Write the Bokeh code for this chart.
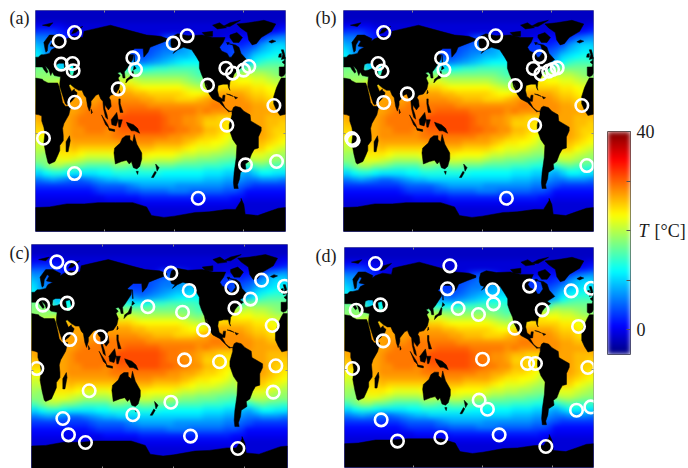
from bokeh.plotting import figure
from bokeh.layouts import row, column, Spacer
from bokeh.models import LinearColorMapper, FixedTicker, LinearAxis, Range1d, CustomJS
from bokeh.document import Document
from bokeh.embed import file_html
from bokeh.resources import INLINE
import numpy as np

# Sea-surface temperature [deg C], rows north to south (5 deg), columns lon 5,15,...,355
SST_N875 = [-2,-2,-2,-2,-2,-2,-2,-2,-2,-2,-2,-2,-2,-2,-2,-2,-2,-2,-2,-2,-2,-2,-2,-2,-2,-2,-2,-2,-2,-2,-2,-2,-2,-2,-2,-2]
SST_N825 = [-2,-2,-2,-2,-2,-2,-2,-2,-2,-2,-2,-2,-2,-2,-2,-2,-2,-2,-2,-2,-2,-2,-2,-2,-2,-2,-2,-2,-2,-2,-2,-2,-2,-2,-2,-2]
SST_N775 = [0,0,0,0,-1,-1,-1,-1,-1,-1,-1,-1,-1,-1,-1,-1,-1,-1,-1,-1,-1,-1,-1,-1,-1,-1,-1,-1,-1,-1,-1,-1,-1,-1,-1,0]
SST_N725 = [3,3,3,2,1,0,-1,-1,-1,-1,-1,-1,-1,-1,-1,-1,-1,-1,-1,-1,-1,-1,-1,-1,-1,-1,-1,-1,-1,-1,-1,-1,-1,0,1,2]
SST_N675 = [6,6,5,3,2,0,-1,-1,-1,-1,-1,-1,-1,-1,-1,-1,-1,0,3,4,4,2,0,-1,-1,-1,-1,0,0,1,1,2,3,5,6,7]
SST_N625 = [8,8,4,3,2,2,2,2,2,2,2,2,2,3,3,3,4,4,5,6,7,8,8,6,4,3,3,3,3,2,3,4,7,9,10,10]
SST_N575 = [10,7,6,4,3,3,3,3,3,3,3,3,3,3,3,3,4,5,6,6,7,8,9,8,5,3,3,3,4,4,5,7,9,10,11,11]
SST_N525 = [11,8,8,8,8,8,6,6,6,5,5,5,5,5,4,4,5,6,7,8,9,9,10,10,8,5,3,3,4,5,7,10,11,12,13,12]
SST_N475 = [14,14,13,9,9,12,10,10,10,9,9,9,9,8,7,6,7,8,9,10,11,12,12,12,12,10,8,7,7,7,9,12,14,15,15,15]
SST_N425 = [17,17,17,10,12,12,13,13,13,13,13,13,13,13,11,12,13,14,14,15,15,15,15,14,14,14,14,14,14,14,17,17,17,17,17,17]
SST_N375 = [18,18,18,15,15,15,15,16,16,16,16,17,18,18,17,17,17,17,17,17,17,17,16,15,15,16,18,20,20,20,21,20,20,19,18,17]
SST_N325 = [18,19,19,21,21,21,21,21,21,21,21,21,21,22,21,20,20,20,20,20,20,19,18,17,20,22,24,24,24,23,23,22,22,21,20,20]
SST_N275 = [22,22,22,25,26,26,26,26,26,26,26,26,25,25,24,23,23,23,23,23,23,22,21,20,20,23,25,25,25,25,25,24,24,23,22,22]
SST_N225 = [23,23,24,26,27,27,27,27,27,27,27,27,27,27,26,26,25,25,25,25,25,24,23,23,24,26,27,27,27,27,26,25,25,24,23,23]
SST_N175 = [24,24,25,27,28,27,27,27,27,28,28,28,28,28,28,27,27,26,26,26,25,25,25,26,27,28,28,28,28,28,27,26,26,25,24,24]
SST_N125 = [26,26,26,27,27,27,28,28,28,29,29,29,29,29,29,29,28,28,28,28,28,28,28,28,28,29,29,28,28,28,28,27,27,26,26,26]
SST_N075 = [27,27,27,27,27,27,28,29,29,29,29,29,29,30,30,30,30,30,29,29,29,29,29,28,29,28,28,28,28,28,28,27,27,27,27,27]
SST_N025 = [27,27,27,27,27,28,29,29,29,29,29,29,31,31,31,31,31,31,30,29,29,28,28,27,26,26,25,25,25,26,27,27,27,26,26,26]
SST_S025 = [26,26,27,27,27,28,29,29,29,29,30,30,31,31,31,31,31,31,30,29,29,28,28,27,25,25,25,24,24,26,27,27,27,26,26,25]
SST_S075 = [25,25,27,27,27,28,28,29,29,29,28,29,30,30,31,31,31,31,30,30,29,29,28,28,26,26,25,24,24,26,27,27,27,26,25,25]
SST_S125 = [23,23,26,27,27,28,28,28,28,28,28,29,29,29,29,29,29,29,29,28,28,27,27,26,25,25,24,23,21,25,27,27,27,26,25,24]
SST_S175 = [21,22,25,26,26,27,27,27,27,27,27,27,28,28,28,28,28,27,27,27,27,26,25,24,24,23,23,22,20,24,26,26,26,25,24,23]
SST_S225 = [20,21,23,25,25,26,25,25,25,25,25,25,26,26,26,26,26,25,25,25,25,24,23,22,22,22,21,20,19,23,25,25,25,23,22,21]
SST_S275 = [19,18,22,24,24,24,23,22,22,22,22,23,24,24,24,24,23,23,23,23,22,21,21,20,20,19,19,18,18,20,22,22,22,21,20,19]
SST_S325 = [18,18,21,22,22,21,20,19,19,19,19,20,20,20,21,21,21,20,20,20,19,18,18,17,17,17,16,16,15,17,19,20,20,19,18,18]
SST_S375 = [15,17,19,19,17,17,16,15,15,15,15,17,17,16,15,17,17,16,16,16,15,15,15,15,14,14,14,13,13,13,13,15,16,15,15,14]
SST_S425 = [10,12,13,13,12,11,11,11,11,12,12,13,13,13,13,13,13,13,12,12,12,12,12,12,11,11,11,10,10,9,8,10,12,12,11,11]
SST_S475 = [6,7,8,7,6,5,5,6,7,8,9,9,10,10,10,10,10,10,10,10,10,10,10,10,9,9,9,8,8,7,6,6,7,7,7,6]
SST_S525 = [3,3,3,3,3,3,3,3,4,5,5,5,5,6,7,8,8,8,8,8,7,7,7,7,7,7,7,6,6,5,4,3,3,3,3,3]
SST_S575 = [1,1,1,1,1,1,1,1,2,3,3,3,3,4,4,5,5,5,5,6,6,6,5,5,5,5,5,4,4,3,1,1,1,1,1,1]
SST_S625 = [0,0,0,0,0,0,0,0,0,0,1,1,1,1,1,2,2,2,2,2,2,2,2,2,2,2,2,2,1,1,0,0,0,0,0,0]
SST_S675 = [-1,-1,-1,-1,-1,-1,-1,-1,-1,-1,-1,-1,-1,-1,-1,0,0,0,0,0,0,0,0,0,0,0,0,0,0,-1,-1,-1,-1,-1,-1,-1]
SST_S725 = [-1,-1,-1,-1,-1,-1,-1,-1,-1,-1,-1,-1,-1,-1,-1,-1,-1,-1,-1,-1,-1,-1,-1,-1,-1,-1,-1,-1,-1,-1,-1,-1,-1,-1,-1,-1]
SST_S775 = [-1,-1,-1,-1,-1,-1,-1,-1,-1,-1,-1,-1,-1,-1,-1,-1,-1,-1,-1,-1,-1,-1,-1,-1,-1,-1,-1,-1,-1,-1,-1,-1,-1,-1,-1,-1]
SST_S825 = [-1,-1,-1,-1,-1,-1,-1,-1,-1,-1,-1,-1,-1,-1,-1,-1,-1,-1,-1,-1,-1,-1,-1,-1,-1,-1,-1,-1,-1,-1,-1,-1,-1,-1,-1,-1]
SST_S875 = [-1,-1,-1,-1,-1,-1,-1,-1,-1,-1,-1,-1,-1,-1,-1,-1,-1,-1,-1,-1,-1,-1,-1,-1,-1,-1,-1,-1,-1,-1,-1,-1,-1,-1,-1,-1]

SST_ROWS = [SST_N875,SST_N825,SST_N775,SST_N725,SST_N675,SST_N625,SST_N575,SST_N525,SST_N475,SST_N425,SST_N375,SST_N325,
            SST_N275,SST_N225,SST_N175,SST_N125,SST_N075,SST_N025,SST_S025,SST_S075,SST_S125,SST_S175,SST_S225,SST_S275,
            SST_S325,SST_S375,SST_S425,SST_S475,SST_S525,SST_S575,SST_S625,SST_S675,SST_S725,SST_S775,SST_S825,SST_S875]

# Land outlines (lon, lat)
AFRICA_E = [(0,35),(10,34),(11,33),(18,31),(28,31),(32,31),(34,28),(37,21),(39,15),(43,12),(51,12),(48,5),(41,-2),(39,-6),(40,-12),(40,-16),(35,-20),(35,-24),(32,-28),(28,-33),(20,-35),(18,-34),(15,-27),(12,-18),(13.5,-10),(12,-5),(9,0),(9,4),(5,5),(0,5.5)]
AFRICA_W = [(360,5.5),(352,4.5),(347,9),(343,14),(343,20),(347,27),(351,32),(354,35),(360,35)]
EURASIA = [(0,44),(6,44),(10,44),(12,42),(16,39),(18,40),(14,45),(19,42),(22,37),(24,40),(27,37),(36,36),(35,31),(35,28),(39,21),(43,14),(45,13),(52,16),(58,20),(60,23),(56,25),(56,26),(52,24),(48,29),(50,30),(56,27),(62,25),(67,25),(70,21),(73,19),(75,12),(77.5,8),(80,13),(80,16),(87,21),(91,22),(94,18),(97,16),(98,10),(101,3),(104,1.5),(103,5),(100,10),(100,13),(105,9),(109,12),(108,17),(106,19),(108,21),(115,22),(120,26),(122,31),(119,35),(122,37),(118,39),(122,40),(125,38),(126,35),(129,35),(128,40),(132,43),(140,50),(141,54),(137,54),(135,55),(143,59),(155,59),(156,52),(162,56),(165,60),(178,63),(190,65.5),(190,67),(180,69),(160,70),(140,73),(108,78),(100,77),(77,74),(70,73),(68,68),(55,69),(45,67),(40,65),(41,67),(30,70),(20,70),(12,64),(14,58),(15,56),(17,57),(18,62),(22,66),(25,65),(21,61),(30,60),(23,58),(20,55),(12,54),(9,54),(8,54),(4,52),(0,52)]
BLACK_SEA = [(29,42),(30,46),(34,47),(41,47),(42,43),(36,41.5),(31,41)]
CASPIAN = [(48,45),(54,46),(56,41),(54,37),(50,37),(49,41)]
IBERIA = [(360,52),(358,49),(355,48),(359,46),(358,44),(351,44),(351,37),(354,36),(358,37),(360,39)]
GREENLAND = [(312,62),(307,66),(305,72),(295,76),(290,79),(307,80),(329,82),(346,79),(340,73),(325,68),(318,63)]
N_AMERICA = [(195,65),(197,69),(205,71),(220,69.5),(240,70),(255,68),(265,68),(273,68),(270,64),(265,60),(268,57),(276,55),(279,52),(282,52),(287,56),(284,62),(278,63),(288,62),(293,60),(296,55),(304,50),(296,47),(293,46),(298,44),(290,41),(286,38),(284,35),(280,32),(279,27),(280,25),(278,27),(277,30),(270,30),(263,29),(262,25),(264,20),(269,18),(270,21),(273,21),(272,16),(268,16),(273,11),(277,9),(280,8),(283,8),(278,7.5),(270,12),(265,15),(255,18),(250,22),(247,29),(245,31),(250,23),(245,28),(243,33),(239,38),(236,43),(236,48),(232,52),(225,58),(213,60),(205,58),(198,55),(202,58),(197,59),(195,62)]
BAFFIN = [(280,70),(290,72),(298,68),(293,64),(285,64),(280,68)]
VICTORIA = [(240,72),(255,73),(255,69),(245,69)]
ELLESMERE = [(270,77),(280,80),(295,82),(280,77)]
QUEEN_ELIZ = [(255,78),(265,80),(275,76),(262,75)]
SOUTHAMPTON = [(275,64),(279,64),(277,62)]
S_AMERICA = [(283,8),(285,11),(288,12),(295,11),(300,8),(309,5),(310,0),(316,-2),(325,-5),(325,-8),(321,-13),(321,-22),(315,-23),(311,-27),(307,-33),(302,-35),(303,-39),(295,-42),(294,-47),(291,-52),(292,-55),(286,-55),(285,-50),(286,-42),(289,-30),(290,-20),(284,-15),(279,-7),(279,-3),(281,1),(283,5)]
AUSTRALIA = [(114,-22),(122,-18),(125,-14),(130,-12),(136,-12),(136,-15),(140,-17),(142,-11),(146,-19),(153,-26),(153,-31),(150,-37),(146,-39),(141,-38),(138,-33),(135,-35),(131,-32),(124,-33),(115,-35),(113,-26)]
TASMANIA = [(145,-41),(148,-41),(147,-43.5)]
NZ_N = [(173,-35),(178,-38),(175,-41)]
NZ_S = [(172,-41),(174,-42),(170,-46),(167,-46)]
MADAGASCAR = [(49,-12),(50,-16),(47,-25),(44,-25),(44,-17)]
SUMATRA = [(95,5),(104,-3),(106,-6),(101,-3)]
JAVA = [(105,-6),(114,-7),(114,-8.5),(106,-7.5)]
BORNEO = [(109,1),(117,7),(119,1),(116,-4),(110,-3)]
SULAWESI = [(119,1),(125,1),(122,-5),(120,-5)]
NEW_GUINEA = [(131,-1),(141,-3),(147,-6),(150,-10),(143,-8),(138,-8),(133,-4)]
PHILIPPINES = [(120,18),(122,18),(122,14),(126,7),(122,7),(120,14)]
SRI_LANKA = [(80,9.5),(82,7),(80.5,6)]
HONSHU = [(130,31),(135,34),(140,35),(141,40),(140,41),(136,36),(131,34)]
HOKKAIDO = [(142,45),(145,43),(141,41.5)]
SAKHALIN = [(142,54),(143,47),(142,47)]
TAIWAN = [(121,25),(120,22),(122,23)]
ICELAND = [(336,64.5),(341,66),(346,65),(340,63.5)]
UK = [(354,50),(360,51),(359,54),(357,58),(354,58),(356,54)]
IRELAND = [(350,52),(354,52),(354,55),(351,54.5)]
CUBA = [(275,22),(285,20),(280,21.5)]
HISPANIOLA = [(286,20),(291,19),(288,18)]
SVALBARD = [(10,78),(25,80),(20,77)]
NOVAYA = [(52,71),(56,75),(68,77),(58,72)]
ANTARCTICA = [(0,-70.5),(20,-70),(45,-67.5),(70,-67.5),(90,-66.5),(115,-66.5),(140,-66.5),(160,-70),(163,-73),(167,-77),(185,-78.5),(200,-77.5),(230,-74.5),(250,-74),(275,-72),(288,-72),(296,-65),(296,-63),(300,-68),(302,-76),(320,-77),(335,-74),(350,-71),(360,-70.5),(360,-90),(0,-90)]

LAND = [AFRICA_E,AFRICA_W,IBERIA,GREENLAND,N_AMERICA,BAFFIN,VICTORIA,ELLESMERE,QUEEN_ELIZ,SOUTHAMPTON,S_AMERICA,AUSTRALIA,TASMANIA,NZ_N,NZ_S,MADAGASCAR,
        SUMATRA,JAVA,BORNEO,SULAWESI,NEW_GUINEA,PHILIPPINES,SRI_LANKA,HONSHU,HOKKAIDO,SAKHALIN,TAIWAN,ICELAND,UK,IRELAND,CUBA,
        HISPANIOLA,SVALBARD,NOVAYA,ANTARCTICA]

# Station circles per panel (lon, lat)
STATIONS_A = [(34.1,65),(56.2,72.1),(37,46.3),(53.3,46.8),(54.2,40.9),(140.2,51.4),(144,41.9),(119.1,26.2),(56.6,15.3),(11.5,-14),(56.2,-42.8),(198.3,63.4),(218.4,69.4),(247.7,29.2),(274.1,43),(283.7,39),(299.6,41.4),(307.2,44.4),(343.3,12.6),(275.6,-3.4),(302.4,-35.7),(347.1,-33),(234.3,-62.9)]
STATIONS_B = [(57.9,72.1),(49.8,46.8),(55.5,40.6),(141.2,51.2),(144.6,41.7),(91.9,22.1),(57.9,15.1),(12,-14.3),(13.9,-15.7),(199.1,63.1),(219.2,69.4),(247.5,28.9),(282.4,52.3),(273.3,42.8),(284.3,38.4),(295.4,40.6),(301.1,42),(307.8,43.3),(343.2,12.6),(275.3,-3.4),(350.4,-36.3),(234.6,-62.9)]
STATIONS_C = [(35.6,76.2),(55.8,71.4),(15.9,41.7),(50.2,43.3),(97,16.5),(53.9,14.3),(7.5,-8.8),(81.1,-26.5),(44.1,-48.6),(52,-61.6),(75.9,-67.7),(142.5,-45.6),(196,-35.6),(223.6,-62.6),(290.2,-72.5),(163.6,40.4),(196,67.2),(221.8,53.4),(212.4,36.1),(241.9,22),(215.2,-1.9),(264.4,-3.4),(281.8,55.5),(286,39.3),(308,46.5),(323.5,61.6),(355.8,56.8),(338.5,25.5),(343.6,-6.6),(339.9,-27.6)]
STATIONS_D = [(44.8,76.9),(152.3,75),(16.9,38.7),(52,43.1),(55.9,13.6),(11.6,-9),(148.9,56.2),(164.3,40.1),(193.7,35.2),(214,55.4),(215.4,43.9),(246.3,24),(199.5,-1.4),(264.6,-4.9),(276.1,-4.9),(267.5,58.4),(285.8,39),(327.7,54.5),(356.6,56.7),(338.3,25.4),(351.8,-8.2),(335.4,-43.1),(356.1,-40.4),(194.7,-34.9),(206.7,-42.3),(53,-51),(76.6,-68.4),(139.3,-65.4),(223.6,-63.3),(291.1,-72.8)]

PANEL_LABELS = ["(a)", "(b)", "(c)", "(d)"]
COLORBAR_TICKS = [0, 10, 20, 30, 40]
COLORBAR_LABELS = {0: "0", 10: "", 20: "", 30: "", 40: "40"}
SYMBOL_LABEL = "T"
UNIT_LABEL = "[°C]"
T_LOW, T_HIGH = -5, 40
SERIF = "Liberation Serif"


def jet(n=256):
    out = []
    for i in range(n):
        t = i / (n - 1)
        r = np.clip(min(4 * t - 1.5, -4 * t + 4.5), 0, 1)
        g = np.clip(min(4 * t - 0.5, -4 * t + 3.5), 0, 1)
        b = np.clip(min(4 * t + 0.5, -4 * t + 2.5), 0, 1)
        out.append("#%02x%02x%02x" % (int(r * 255), int(g * 255), int(b * 255)))
    return out


mapper = LinearColorMapper(palette=jet(), low=T_LOW, high=T_HIGH)
grid = np.flipud(np.array(SST_ROWS, dtype=float))
# one wrapped column each side and a repeated row top and bottom, so the display blur does not fade at the frame edge
field = np.pad(np.pad(grid, ((0, 0), (1, 1)), mode="wrap"), ((1, 1), (0, 0)), mode="edge")


def panel(stations, label, width, height, left, right, top, bottom, lat_min, label_lat, standoff):
    p = figure(title=None, width=width, height=height, output_backend="svg", toolbar_location=None,
               x_range=Range1d(0, 360), y_range=Range1d(lat_min, 90),
               min_border_left=left, min_border_right=right, min_border_top=top, min_border_bottom=bottom,
               x_axis_location="below", y_axis_location="left", background_fill_color=None,
               border_fill_color=None, outline_line_color="#8c8c8c", outline_line_width=1)
    p.grid.visible = False
    p.image(image=[field], x=-10, y=-95, dw=380, dh=190, color_mapper=mapper)
    p.add_layout(LinearAxis(), "above")
    p.add_layout(LinearAxis(), "right")
    for ax in p.xaxis:
        ax.ticker = FixedTicker(ticks=[100, 200, 300])
        ax.major_label_overrides = {100: "", 200: "", 300: ""}
    for ax in p.yaxis:
        ax.ticker = FixedTicker(ticks=[-10])
        ax.major_label_overrides = {-10: ""}
    for ax in p.xaxis + p.yaxis:
        ax.axis_line_color = None
        ax.major_tick_in = 2
        ax.major_tick_out = 0
        ax.minor_tick_line_color = None
        ax.major_tick_line_color = "#8c8c8c"
        ax.major_label_standoff = 0
        ax.major_label_text_font_size = "1px"
    # the panel letter is a tick label of a second, tick-less left axis
    letter = LinearAxis(ticker=FixedTicker(ticks=[label_lat]), major_label_overrides={label_lat: label},
                        axis_line_color=None, major_tick_line_color=None, minor_tick_line_color=None,
                        major_tick_in=0, major_tick_out=0, major_label_standoff=standoff,
                        major_label_text_font=SERIF, major_label_text_font_size="18px",
                        major_label_text_color="#1a1a1a")
    p.add_layout(letter, "left")
    xs = [[[[pt[0] for pt in poly]]] for poly in LAND]
    ys = [[[[pt[1] for pt in poly]]] for poly in LAND]
    xs.append([[[pt[0] for pt in EURASIA], [pt[0] for pt in BLACK_SEA], [pt[0] for pt in CASPIAN]]])
    ys.append([[[pt[1] for pt in EURASIA], [pt[1] for pt in BLACK_SEA], [pt[1] for pt in CASPIAN]]])
    p.multi_polygons(xs=xs, ys=ys, fill_color="black", line_color="black", line_width=0.5)
    p.scatter([s[0] for s in stations], [s[1] for s in stations], marker="circle", size=12.5,
              fill_color=None, line_color="white", line_width=2.6)
    return p


# frames: a 35-285 x 10-231, b 343-593, c 31-287 x 244-468, d 344-593 x 247-467
fa = panel(STATIONS_A, PANEL_LABELS[0], 305, 237, 35, 20, 10, 6, -90, 83.5, 6)
fb = panel(STATIONS_B, PANEL_LABELS[1], 295, 237, 38, 7, 10, 6, -90, 83.5, 7)
fc = panel(STATIONS_C, PANEL_LABELS[2], 305, 231, 31, 18, 7, 0, -88.4, 83, 2)
fd = panel(STATIONS_D, PANEL_LABELS[3], 295, 228, 39, 7, 7, 1, -90, 83.4, 8)

cb = figure(title=None, width=88, height=468, output_backend="svg", toolbar_location=None,
            x_range=Range1d(0, 1), y_range=Range1d(T_LOW, T_HIGH),
            min_border_left=7, min_border_right=52, min_border_top=131, min_border_bottom=114,
            x_axis_location=None, y_axis_location="right", outline_line_color="#666666",
            border_fill_color=None)
cb.grid.visible = False
cb.image(image=[np.linspace(T_LOW, T_HIGH, 256).reshape(-1, 1)], x=0, y=T_LOW, dw=1, dh=T_HIGH - T_LOW, color_mapper=mapper)
ax = cb.yaxis[0]
ax.ticker = FixedTicker(ticks=COLORBAR_TICKS)
ax.major_label_overrides = COLORBAR_LABELS
ax.major_label_text_font = SERIF
ax.major_label_text_font_size = "18px"
ax.major_label_text_color = "#1a1a1a"
ax.major_label_standoff = 6
ax.major_tick_in = 4
ax.major_tick_out = 0
ax.major_tick_line_color = "#555555"
ax.minor_tick_line_color = None
ax.axis_line_color = None
symbol = LinearAxis(ticker=FixedTicker(ticks=[20]), major_label_overrides={20: SYMBOL_LABEL},
                    axis_line_color=None, major_tick_line_color=None, minor_tick_line_color=None,
                    major_tick_in=0, major_tick_out=0, major_label_standoff=-19,
                    major_label_text_font=SERIF, major_label_text_font_style="italic",
                    major_label_text_font_size="18px", major_label_text_color="#1a1a1a")
cb.add_layout(symbol, "right")
unit = LinearAxis(ticker=FixedTicker(ticks=[20]), major_label_overrides={20: UNIT_LABEL},
                  axis_line_color=None, major_tick_line_color=None, minor_tick_line_color=None,
                  major_tick_in=0, major_tick_out=0, major_label_standoff=-3,
                  major_label_text_font=SERIF, major_label_text_font_size="18px", major_label_text_color="#1a1a1a")
cb.add_layout(unit, "right")

layout = row(column(row(fa, fb), row(fc, column(Spacer(width=295, height=3), fd))), cb)
doc = Document()
doc.add_root(layout)
# display the coarse temperature cells of the maps smoothly, as the reference does
doc.js_on_event("document_ready", CustomJS(code="""
function walk(root){
  root.querySelectorAll('*').forEach(el=>{
    if(el.tagName.toLowerCase()==='image'){el.removeAttribute('image-rendering');el.style.imageRendering='auto';el.style.filter='blur(2.5px)';}
    if(el.shadowRoot) walk(el.shadowRoot);
  });
}
let n=0; const h=setInterval(()=>{walk(document); if(++n>40) clearInterval(h);},100);
"""))
open("out.html", "w").write(file_html(doc, INLINE))
